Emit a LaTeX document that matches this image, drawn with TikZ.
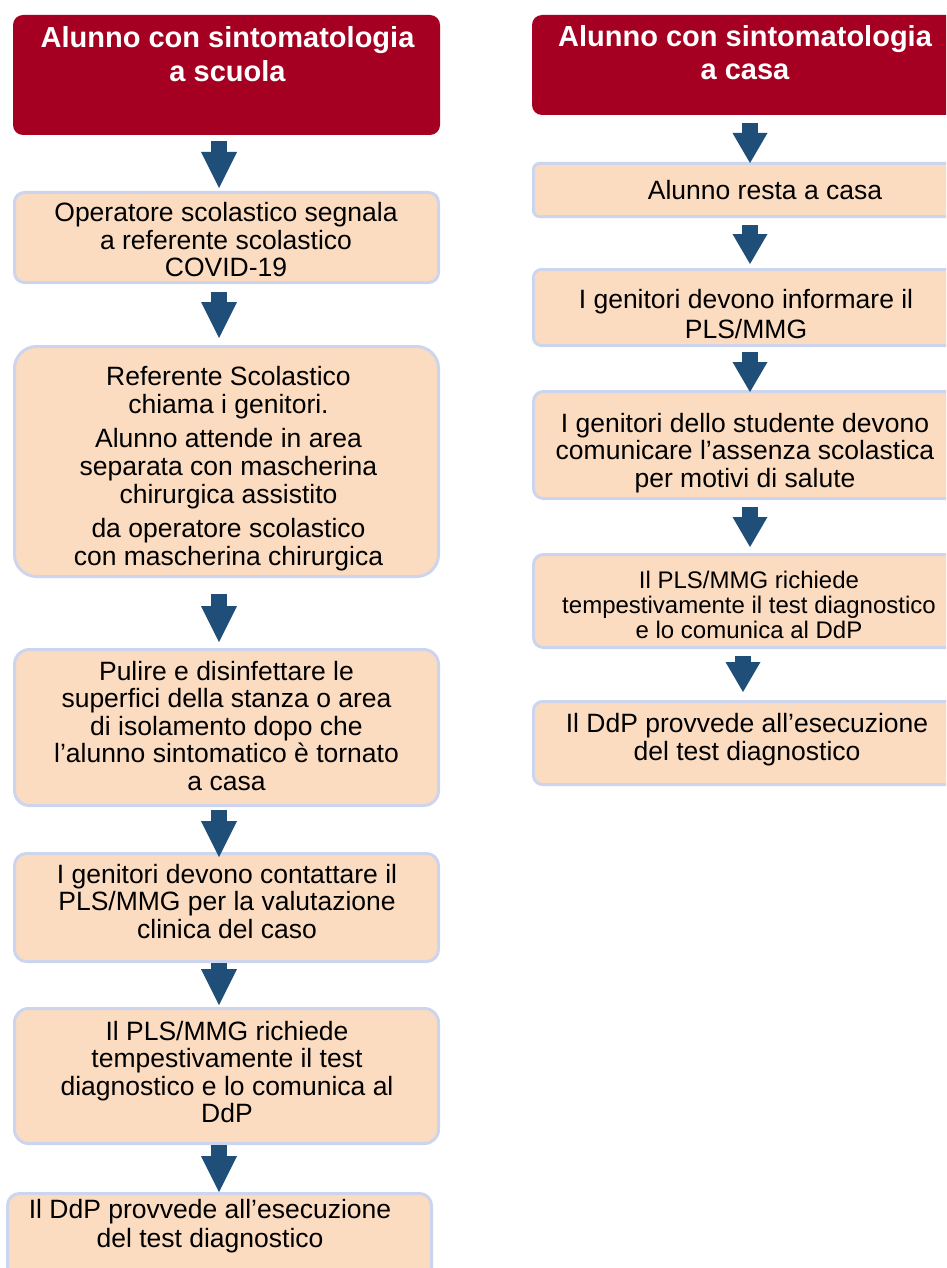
\documentclass[tikz,border=0pt]{standalone}
\usepackage{fontspec}
\setmainfont{Liberation Sans}
\usetikzlibrary{arrows.meta}
\definecolor{hdr}{HTML}{A50021}
\definecolor{peach}{HTML}{FBDCC0}
\definecolor{rim}{HTML}{CDD5EE}
\definecolor{arr}{HTML}{1F4E79}
\newcommand{\ml}[1]{\begin{tabular}[t]{@{}c@{}}#1\end{tabular}}
\tikzset{
  hbox/.style={fill=hdr, inner sep=0pt, outer sep=0pt, rounded corners=10pt},
  pbox/.style={fill=peach, draw=rim, line width=3pt, inner sep=0pt, outer sep=0pt},
  htxt/.style={inner sep=0pt, anchor=base, text=white, font=\fontsize{29}{34}\selectfont\bfseries},
  btxt/.style={inner sep=0pt, anchor=base, font=\fontsize{26.5}{27.5}\selectfont},
  stxt/.style={inner sep=0pt, anchor=base, font=\fontsize{24}{25}\selectfont},
  larr/.style={draw=arr, line width=16pt, -{Triangle[width=36pt,length=36pt,line width=0pt]}},
  rarr/.style={draw=arr, line width=16pt, -{Triangle[width=35pt,length=30pt,line width=0pt]}},
}
\begin{document}
\begin{tikzpicture}[x=1pt,y=-1pt]
\clip (0,0) rectangle (946,1268);
\fill[white] (0,0) rectangle (946,1268);
% left column boxes
\node[hbox, minimum width=427pt, minimum height=120pt] (h1) at (226.5,75) {};
\node[pbox, minimum width=424pt, minimum height=90pt, rounded corners=10pt] (b2) at (226.5,237.5) {};
\node[pbox, minimum width=424pt, minimum height=230pt, rounded corners=22pt] (b3) at (226.5,461.5) {};
\node[pbox, minimum width=424pt, minimum height=156pt, rounded corners=15pt] (b4) at (226.5,727.5) {};
\node[pbox, minimum width=424pt, minimum height=108pt, rounded corners=12pt] (b5) at (226.5,907.5) {};
\node[pbox, minimum width=424pt, minimum height=135pt, rounded corners=14pt] (b6) at (226.5,1076) {};
\node[pbox, minimum width=424pt, minimum height=106.5pt, rounded corners=12pt] (b7) at (219.5,1246.75) {};
% right column boxes
\node[hbox, minimum width=427pt, minimum height=100pt] (h2) at (745.5,65) {};
\node[pbox, minimum width=424pt, minimum height=53pt, rounded corners=6pt] (r2) at (745.5,190) {};
\node[pbox, minimum width=424pt, minimum height=76pt, rounded corners=8pt] (r3) at (745.5,307.5) {};
\node[pbox, minimum width=424pt, minimum height=107pt, rounded corners=10pt] (r4) at (745.5,445) {};
\node[pbox, minimum width=424pt, minimum height=93pt, rounded corners=10pt] (r5) at (745.5,601) {};
\node[pbox, minimum width=424pt, minimum height=83pt, rounded corners=9pt] (r6) at (745.5,743) {};
% texts left
\node[htxt] (t1) at (227.5,48) {\ml{Alunno con sintomatologia\\a scuola}};
\node[btxt] (t2) at (226,222) {\ml{Operatore scolastico segnala\\a referente scolastico\\COVID-19}};
\node[btxt, font=\fontsize{26.5}{28}\selectfont] (t3) at (228.5,385) {\ml{Referente Scolastico\\chiama i genitori.\\[6pt]Alunno attende in area\\separata con mascherina\\chirurgica assistito\\[6pt]da operatore scolastico\\con mascherina chirurgica}};
\node[btxt] (t4) at (226.5,680) {\ml{Pulire e disinfettare le\\superfici della stanza o area\\di isolamento dopo che\\l’alunno sintomatico è tornato\\a casa}};
\node[btxt] (t5) at (227,883) {\ml{I genitori devono contattare il\\PLS/MMG per la valutazione\\clinica del caso}};
\node[btxt] (t6) at (227,1040) {\ml{Il PLS/MMG richiede\\tempestivamente il test\\diagnostico e lo comunica al\\DdP}};
\node[btxt, font=\fontsize{26.5}{29}\selectfont] (t7) at (210,1218) {\ml{Il DdP provvede all’esecuzione\\del test diagnostico}};
% texts right
\node[htxt, font=\fontsize{29}{33}\selectfont\bfseries] (u1) at (745,47) {\ml{Alunno con sintomatologia\\a casa}};
\node[btxt] (u2) at (765,200) {Alunno resta a casa};
\node[btxt, font=\fontsize{26.5}{30}\selectfont] (u3) at (746,308) {\ml{I genitori devono informare il\\PLS/MMG}};
\node[btxt] (u4) at (745,432) {\ml{I genitori dello studente devono\\comunicare l’assenza scolastica\\per motivi di salute}};
\node[stxt] (u5) at (749,588) {\ml{Il PLS/MMG richiede\\tempestivamente il test diagnostico\\e lo comunica al DdP}};
\node[btxt, font=\fontsize{26.5}{28}\selectfont] (u6) at (747,732) {\ml{Il DdP provvede all’esecuzione\\del test diagnostico}};
% arrows
\coordinate (axl) at (219,0);
\coordinate (axr) at (750,0);
\coordinate (axr2) at (743,0);
\draw[larr, shorten <=6pt, shorten >=4.5pt] (h1.south -| axl) -- (b2.north -| axl);
\draw[larr, shorten <=9.5pt, shorten >=8.5pt] (b2.south -| axl) -- (b3.north -| axl);
\draw[larr, shorten <=17.5pt, shorten >=7.5pt] (b3.south -| axl) -- (b4.north -| axl);
\draw[larr, shorten <=4.5pt, shorten >=-3.5pt] (b4.south -| axl) -- (b5.north -| axl);
\draw[larr, shorten <=1.5pt, shorten >=3.5pt] (b5.south -| axl) -- (b6.north -| axl);
\draw[larr, shorten <=1.5pt, shorten >=1.5pt] (b6.south -| axl) -- (b7.north -| axl);
\draw[rarr, shorten <=8pt, shorten >=0.5pt] (h2.south -| axr) -- (r2.north -| axr);
\draw[rarr, shorten <=8.5pt, shorten >=5.5pt] (r2.south -| axr) -- (r3.north -| axr);
\draw[rarr, shorten <=6.5pt, shorten >=-0.5pt] (r3.south -| axr) -- (r4.north -| axr);
\draw[rarr, shorten <=8.5pt, shorten >=7.5pt] (r4.south -| axr) -- (r5.north -| axr);
\draw[rarr, shorten <=8.5pt, shorten >=9.5pt] (r5.south -| axr2) -- (r6.north -| axr2);
\end{tikzpicture}
\end{document}
